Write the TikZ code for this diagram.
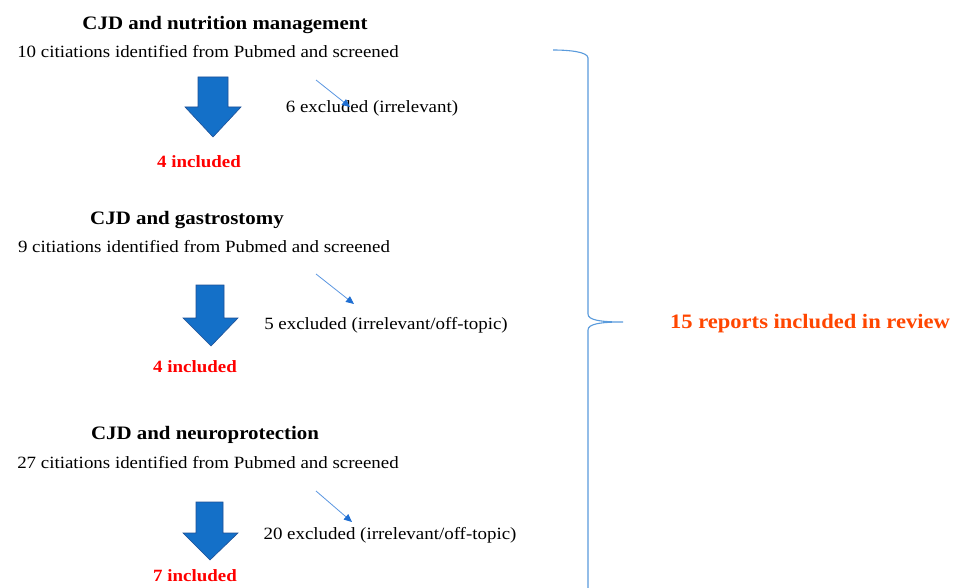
\documentclass[tikz,border=0pt]{standalone}
\usepackage{fontspec}
\setmainfont{Liberation Serif}[FakeStretch=1.1]
\definecolor{blockblue}{RGB}{20,112,200}
\definecolor{blockedge}{RGB}{30,80,150}
\definecolor{thinblue}{RGB}{90,150,225}
\definecolor{headblue}{RGB}{30,110,210}
\definecolor{bracecol}{RGB}{90,155,220}
\definecolor{incred}{RGB}{255,0,0}
\definecolor{totalorange}{RGB}{255,70,0}
\tikzset{
  title/.style={font=\fontsize{19}{22}\selectfont\bfseries, inner sep=0pt, text height=13pt, text depth=4pt},
  plain/.style={font=\fontsize{17.2}{20}\selectfont, inner sep=0pt, text height=12pt, text depth=4pt},
  incl/.style={font=\fontsize{17.2}{20}\selectfont\bfseries, text=incred, inner sep=0pt, text height=12pt, text depth=4pt},
  total/.style={font=\fontsize{20.5}{24}\selectfont\bfseries, text=totalorange, inner sep=0pt, text height=14pt, text depth=4.5pt},
  blockarrow/.style={fill=blockblue, draw=blockedge, line width=0.6pt, line join=miter},
  thinarrow/.style={draw=thinblue, line width=0.8pt, -{Triangle[length=8pt,width=7pt,color=headblue]}},
  bracestyle/.style={draw=bracecol, line width=1.1pt}
}
\usetikzlibrary{arrows.meta}
\begin{document}
\begin{tikzpicture}[x=1pt,y=-1pt]
\useasboundingbox (0,0) rectangle (956,588);
\clip (0,0) rectangle (956,588);
\fill[white] (0,0) rectangle (956,588);

% Section 1
\node[title] (t1) at (225,25) {CJD and nutrition management};
\node[plain] (c1) at (208,54) {10 citiations identified from Pubmed and screened};
\path[blockarrow] (198,77) -- (228,77) -- (228,107) -- (241,107) -- (213,137) -- (185,107) -- (198,107) -- cycle;
\node[plain] (e1) at (372,109) {6 excluded (irrelevant)};
\coordinate (s1) at (316,80);
\coordinate (f1) at (350,107);
\draw[thinarrow] (s1) -- (f1);
\node[incl] (i1) at (199,164) {4 included};

% Section 2
\node[title] (t2) at (187,220) {CJD and gastrostomy};
\node[plain] (c2) at (204,249) {9 citiations identified from Pubmed and screened};
\path[blockarrow] (196,285) -- (224,285) -- (224,318) -- (238,318) -- (211,346) -- (183,318) -- (196,318) -- cycle;
\node[plain] (e2) at (386,325) {5 excluded (irrelevant/off-topic)};
\coordinate (s2) at (316,274);
\coordinate (f2) at (354,304);
\draw[thinarrow] (s2) -- (f2);
\node[incl] (i2) at (195,368) {4 included};

% Section 3
\node[title] (t3) at (205,435) {CJD and neuroprotection};
\node[plain] (c3) at (208,464) {27 citiations identified from Pubmed and screened};
\path[blockarrow] (196,502) -- (223,502) -- (223,533) -- (238,533) -- (210,560) -- (183,533) -- (196,533) -- cycle;
\node[plain] (e3) at (390,535) {20 excluded (irrelevant/off-topic)};
\coordinate (s3) at (316,491);
\coordinate (f3) at (352,522);
\draw[thinarrow] (s3) -- (f3);
\node[incl] (i3) at (195,577) {7 included};

% Brace
\coordinate (btop) at (553,50);
\coordinate (btip) at (623,322);
\path[bracestyle] (btop) .. controls (570,50) and (588,52) .. (588,58)
  -- (588,314) .. controls (588,320) and (600,322) .. (btip)
  .. controls (600,322) and (588,324) .. (588,330) -- (588,600);
\node[total] (tot) at (810,324) {15 reports included in review};
\end{tikzpicture}
\end{document}
